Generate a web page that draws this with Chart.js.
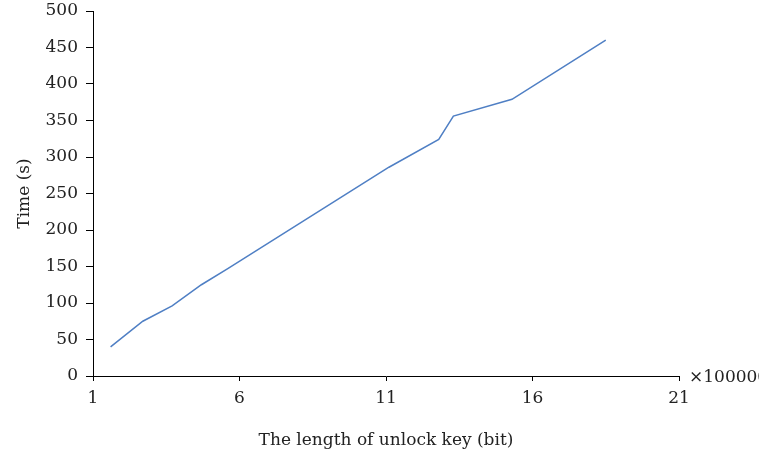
<!DOCTYPE html>
<html>
<head>
<meta charset="utf-8">
<script src="https://cdn.jsdelivr.net/npm/chart.js@4/dist/chart.umd.min.js"></script>
<style>
  html, body { margin: 0; padding: 0; background: #fff; }
  #wrap { width: 759px; height: 451px; }
</style>
</head>
<body>
<div id="wrap"><canvas id="keyChart"></canvas></div>
<script>
// Data (x in units of 100000 bit)
const keyLength = [1.6, 2.7, 3.7, 4.7, 5.6, 11.1, 12.8, 13.3, 15.3, 18.5];
const timeSec = [40, 75, 96, 125, 147, 286, 324, 356, 379, 460];
const xTicks = [1, 6, 11, 16, 21];
const yTicks = [0, 50, 100, 150, 200, 250, 300, 350, 400, 450, 500];

const FONT = { family: '"DejaVu Serif", "Liberation Serif", serif', size: 17 };

// draws the "×100000" multiplier to the right of the x axis
const multiplierLabel = {
    id: 'multiplierLabel',
    afterDraw(chart) {
        const { ctx, chartArea } = chart;
        ctx.save();
        ctx.font = FONT.size + 'px ' + FONT.family;
        ctx.fillStyle = '#222';
        ctx.textAlign = 'left';
        ctx.textBaseline = 'middle';
        ctx.fillText('\u00d7100000', chartArea.right + 10, chartArea.bottom + 2);
        ctx.restore();
    }
};

const ctx = document.getElementById('keyChart').getContext('2d');
new Chart(ctx, {
    type: 'line',
    data: {
        datasets: [{
            data: keyLength.map((x, i) => ({ x: x, y: timeSec[i] })),
            borderColor: '#4f7fc4',
            borderWidth: 1.5,
            pointRadius: 0,
            tension: 0,
            fill: false
        }]
    },
    options: {
        responsive: true,
        maintainAspectRatio: false,
        animation: false,
        layout: { padding: { top: 11, right: 80, left: 0, bottom: 0 } },
        plugins: {
            legend: { display: false },
            tooltip: { enabled: false }
        },
        scales: {
            x: {
                type: 'linear',
                min: 1,
                max: 21,
                afterBuildTicks: scale => { scale.ticks = xTicks.map(v => ({ value: v })); },
                afterFit: scale => { scale.height = 75; },
                border: { display: true, color: '#000', width: 1 },
                grid: { display: true, drawOnChartArea: false, drawTicks: true, tickLength: 5, color: '#000' },
                ticks: { color: '#222', font: FONT, padding: 7, maxRotation: 0 },
                title: {
                    display: true,
                    text: 'The length of unlock key (bit)',
                    color: '#222',
                    font: FONT,
                    padding: { top: 4, bottom: 0 }
                }
            },
            y: {
                min: 0,
                max: 500,
                afterBuildTicks: scale => { scale.ticks = yTicks.map(v => ({ value: v })); },
                afterFit: scale => {
                    scale.width = 93;
                    scale.paddingTop = 0;
                },
                border: { display: true, color: '#000', width: 1 },
                grid: { display: true, drawOnChartArea: false, drawTicks: true, tickLength: 7, color: '#000' },
                ticks: { color: '#222', font: FONT, padding: 8 },
                title: {
                    display: true,
                    text: 'Time (s)',
                    color: '#222',
                    font: FONT,
                    padding: { top: 14, bottom: 0 }
                }
            }
        }
    },
    plugins: [multiplierLabel]
});
</script>
</body>
</html>
